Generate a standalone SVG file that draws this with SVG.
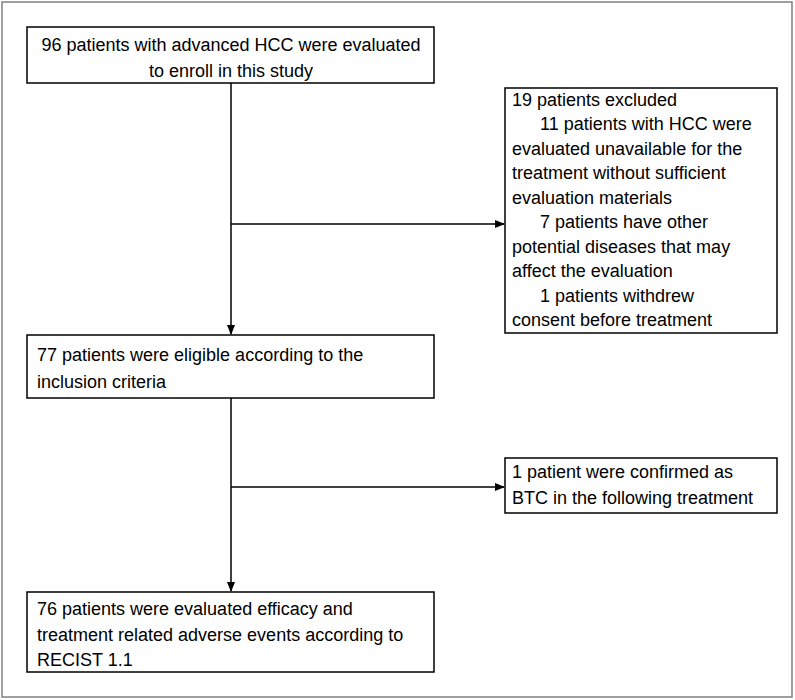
<svg xmlns="http://www.w3.org/2000/svg" width="795" height="700" viewBox="0 0 795 700">
<defs>
<marker id="ah" markerWidth="10" markerHeight="8" refX="9" refY="4" orient="auto" markerUnits="userSpaceOnUse"><path d="M0,0 L10,4 L0,8 z" fill="#000"/></marker>
<style>
.b{fill:#fff;stroke:#000;stroke-width:1.5}
text{font-family:"Liberation Sans",Arial,sans-serif;font-size:18px;fill:#000}
.c{text-anchor:middle}
.l{stroke:#000;stroke-width:1.5;fill:none}
</style>
</defs>
<rect x="0" y="0" width="795" height="700" fill="#fff"/>
<rect x="2" y="2" width="790" height="695" fill="none" stroke="#808080" stroke-width="1.5"/>
<g id="connectors">
<line class="l" x1="231" y1="83" x2="231" y2="334" marker-end="url(#ah)"/>
<line class="l" x1="231" y1="224" x2="504" y2="224" marker-end="url(#ah)"/>
<line class="l" x1="231" y1="398" x2="231" y2="591" marker-end="url(#ah)"/>
<line class="l" x1="231" y1="487" x2="504" y2="487" marker-end="url(#ah)"/>
</g>
<g id="n1"><rect class="b" x="27" y="27" width="407" height="56"/>
<text class="c" x="231" y="51">96 patients with advanced HCC were evaluated</text>
<text class="c" x="231" y="77">to enroll in this study</text></g>
<g id="n2"><rect class="b" x="505" y="88" width="272" height="245"/>
<text x="512" y="106">19 patients excluded</text>
<text x="540" y="130">11 patients with HCC were</text>
<text x="512" y="155">evaluated unavailable for the</text>
<text x="512" y="179">treatment without sufficient</text>
<text x="512" y="204">evaluation materials</text>
<text x="540" y="228">7 patients have other</text>
<text x="512" y="253">potential diseases that may</text>
<text x="512" y="277">affect the evaluation</text>
<text x="540" y="302">1 patients withdrew</text>
<text x="512" y="326">consent before treatment</text></g>
<g id="n3"><rect class="b" x="27" y="335" width="407" height="63"/>
<text x="37" y="361">77 patients were eligible according to the</text>
<text x="37" y="388">inclusion criteria</text></g>
<g id="n4"><rect class="b" x="505" y="458" width="272" height="55"/>
<text x="512" y="478">1 patient were confirmed as</text>
<text x="512" y="504">BTC in the following treatment</text></g>
<g id="n5"><rect class="b" x="27" y="592" width="407" height="80"/>
<text x="37" y="615">76 patients were evaluated efficacy  and</text>
<text x="37" y="641">treatment related adverse events according to</text>
<text x="37" y="666">RECIST 1.1</text></g>
</svg>
